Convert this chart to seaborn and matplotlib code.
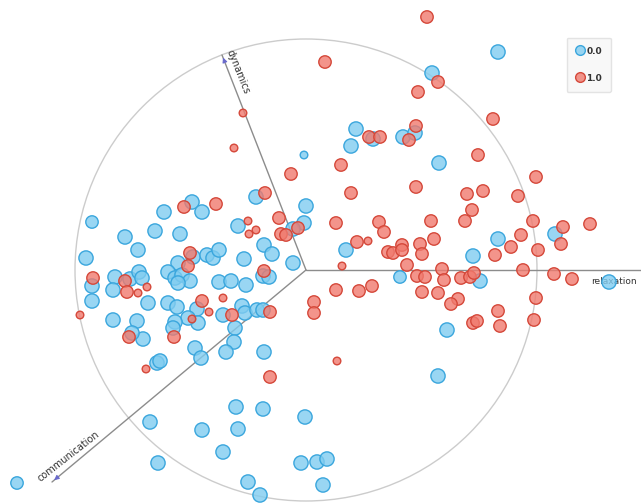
import pandas as pd
import numpy as np
import seaborn as sns
import matplotlib.pyplot as plt
from matplotlib.patches import Circle
from matplotlib.lines import Line2D

# Point positions (x right, y down), with a size class
# L = large circle, M = medium, S = small
blue_x = [92, 164, 192, 202, 125, 155, 180, 138, 193, 207, 213, 219, 86, 178, 92, 115, 130, 139,
          142, 168, 175, 182, 190, 178, 113, 92, 148, 168, 177, 197, 219, 198, 188, 175, 173, 113,
          137, 143, 132, 195, 201, 157, 160, 150, 202, 158, 223, 17,
          256, 306, 304, 293, 238, 264, 272, 244, 293, 263, 269, 231, 246, 223, 242, 245, 257, 263,
          235, 234, 226, 264, 236, 263, 305, 238, 301, 317, 327, 248, 323, 260,
          498, 432, 356, 351, 304, 373, 403, 415, 439,
          555, 498, 346, 473, 400, 480, 447, 609, 438]
blue_y = [222, 212, 202, 212, 237, 231, 234, 250, 257, 255, 258, 250, 258, 263, 286, 277, 279, 272,
          278, 272, 278, 275, 281, 283, 290, 301, 303, 303, 307, 309, 282, 323, 318, 322, 328, 320,
          321, 339, 333, 348, 358, 363, 361, 422, 430, 463, 452, 483,
          197, 206, 223, 229, 226, 245, 254, 259, 263, 276, 277, 281, 285, 315, 306, 313, 310, 310,
          328, 342, 352, 352, 407, 409, 417, 429, 463, 462, 459, 482, 485, 495,
          52, 73, 129, 146, 155, 139, 137, 133, 163,
          234, 239, 250, 256, 277, 281, 330, 282, 376]
blue_size = (['M'] + ['L'] * 46 + ['M']
             + ['L'] * 32
             + ['L', 'L', 'L', 'L', 'S', 'L', 'L', 'L', 'L']
             + ['L', 'L', 'L', 'L', 'M', 'L', 'L', 'L', 'L'])

red_x = [184, 216, 190, 188, 93, 125, 127, 138, 147, 202, 209, 192, 174, 129, 80, 146,
         291, 265, 279, 298, 248, 256, 249, 281, 286, 264, 336, 336, 223, 232, 270, 314, 314, 270, 337,
         427, 325, 438, 418, 493, 369, 380, 416, 409, 341, 478, 536, 243, 234,
         351, 416, 467, 483, 518, 472, 379, 384, 431, 465, 533, 563, 561, 590, 521, 511, 538, 357,
         368, 388, 393, 402, 402, 420, 434, 422, 495, 342, 407, 417, 425, 442, 444, 461, 470, 474,
         523, 554, 572, 359, 372, 422, 438, 458, 451, 536, 498, 500, 473, 477, 534]
red_y = [207, 204, 253, 266, 278, 281, 292, 293, 287, 301, 312, 319, 337, 337, 315, 369,
         174, 193, 218, 228, 221, 230, 234, 234, 235, 271, 223, 290, 298, 315, 312, 302, 313, 377, 361,
         17, 62, 82, 92, 119, 137, 137, 126, 140, 165, 155, 177, 113, 148,
         193, 187, 194, 191, 196, 210, 222, 232, 221, 221, 221, 227, 244, 224, 235, 247, 250, 242,
         241, 252, 253, 245, 250, 244, 239, 254, 255, 266, 265, 276, 277, 269, 280, 278, 277, 273,
         270, 274, 279, 291, 286, 292, 293, 299, 304, 298, 311, 326, 323, 321, 320]
red_size = (['M'] * 7 + ['S', 'S', 'M', 'S', 'S', 'M', 'M', 'S', 'S']
            + ['M'] * 4 + ['S', 'S', 'S'] + ['M'] * 5 + ['S'] + ['M'] * 5 + ['S']
            + ['M'] * 12 + ['S', 'S']
            + ['M'] * 18 + ['S'] + ['M'] * 8 + ['S'] + ['M'] * 23)

anchors = ['relaxation', 'dynamics', 'communication']
legend_labels = ['0.0', '1.0']

df = pd.concat([
    pd.DataFrame({'x': blue_x, 'y': blue_y, 'size': blue_size, 'group': '0.0'}),
    pd.DataFrame({'x': red_x, 'y': red_y, 'size': red_size, 'group': '1.0'}),
], ignore_index=True)

sns.set_style('white')
fig = plt.figure(figsize=(6.41, 5.04), dpi=100)
ax = fig.add_axes([0, 0, 1, 1])

# Circle and anchor axes
cx, cy, rad = 306, 270, 231
ax.add_patch(Circle((cx, cy), rad, fill=False, ec='#cccccc', lw=1, zorder=0))
tips = {'relaxation': (641, 270), 'dynamics': (222, 55), 'communication': (52, 482)}
for name in anchors:
    tx, ty = tips[name]
    ax.plot([cx, tx], [cy, ty], color='#8c8c8c', lw=1, zorder=1)
    if name != 'relaxation':
        ux, uy = (tx - cx), (ty - cy)
        n = np.hypot(ux, uy)
        ax.annotate('', xy=(tx, ty), xytext=(tx - 9 * ux / n, ty - 9 * uy / n),
                    arrowprops=dict(arrowstyle='-|>', color='#6a6acc', lw=0.8, mutation_scale=7),
                    zorder=2)

ax.text(614, 282, 'relaxation', fontsize=6.5, color='#333333', ha='center', va='center')
ax.text(238, 72, 'dynamics', fontsize=7, color='#333333', ha='center', va='center', rotation=-68)
ax.text(68, 456, 'communication', fontsize=7, color='#333333', ha='center', va='center', rotation=38)

sizes = {'L': 105, 'M': 80, 'S': 30}
styles = {'0.0': ((0.50, 0.80, 0.94, 0.8), '#3aa6dd'),
          '1.0': ((0.94, 0.48, 0.43, 0.8), '#d5483a')}
for g in legend_labels:
    sub = df[df['group'] == g]
    face, edge = styles[g]
    sns.scatterplot(data=sub, x='x', y='y', size='size', sizes=sizes, ax=ax,
                    color=face, edgecolor=edge, linewidth=1.0, legend=False, zorder=3)
ax.set_xlim(0, 641)
ax.set_ylim(504, 0)
ax.axis('off')

handles = [Line2D([], [], marker='o', ls='', markersize=7, markerfacecolor=styles[g][0],
                  markeredgecolor=styles[g][1], markeredgewidth=1) for g in legend_labels]
leg = ax.legend(handles, legend_labels, loc='upper left', bbox_to_anchor=(562 / 641, 1 - 33 / 504),
                frameon=True, fontsize=6.5, labelspacing=2.0, handletextpad=0.2, handlelength=1.0,
                borderpad=1.0, fancybox=True)
leg.get_frame().set_facecolor('#f7f7f7')
leg.get_frame().set_edgecolor('#dddddd')
for t in leg.get_texts():
    t.set_color('#333333')
    t.set_fontweight('bold')

fig.savefig('out.png', dpi=100)
